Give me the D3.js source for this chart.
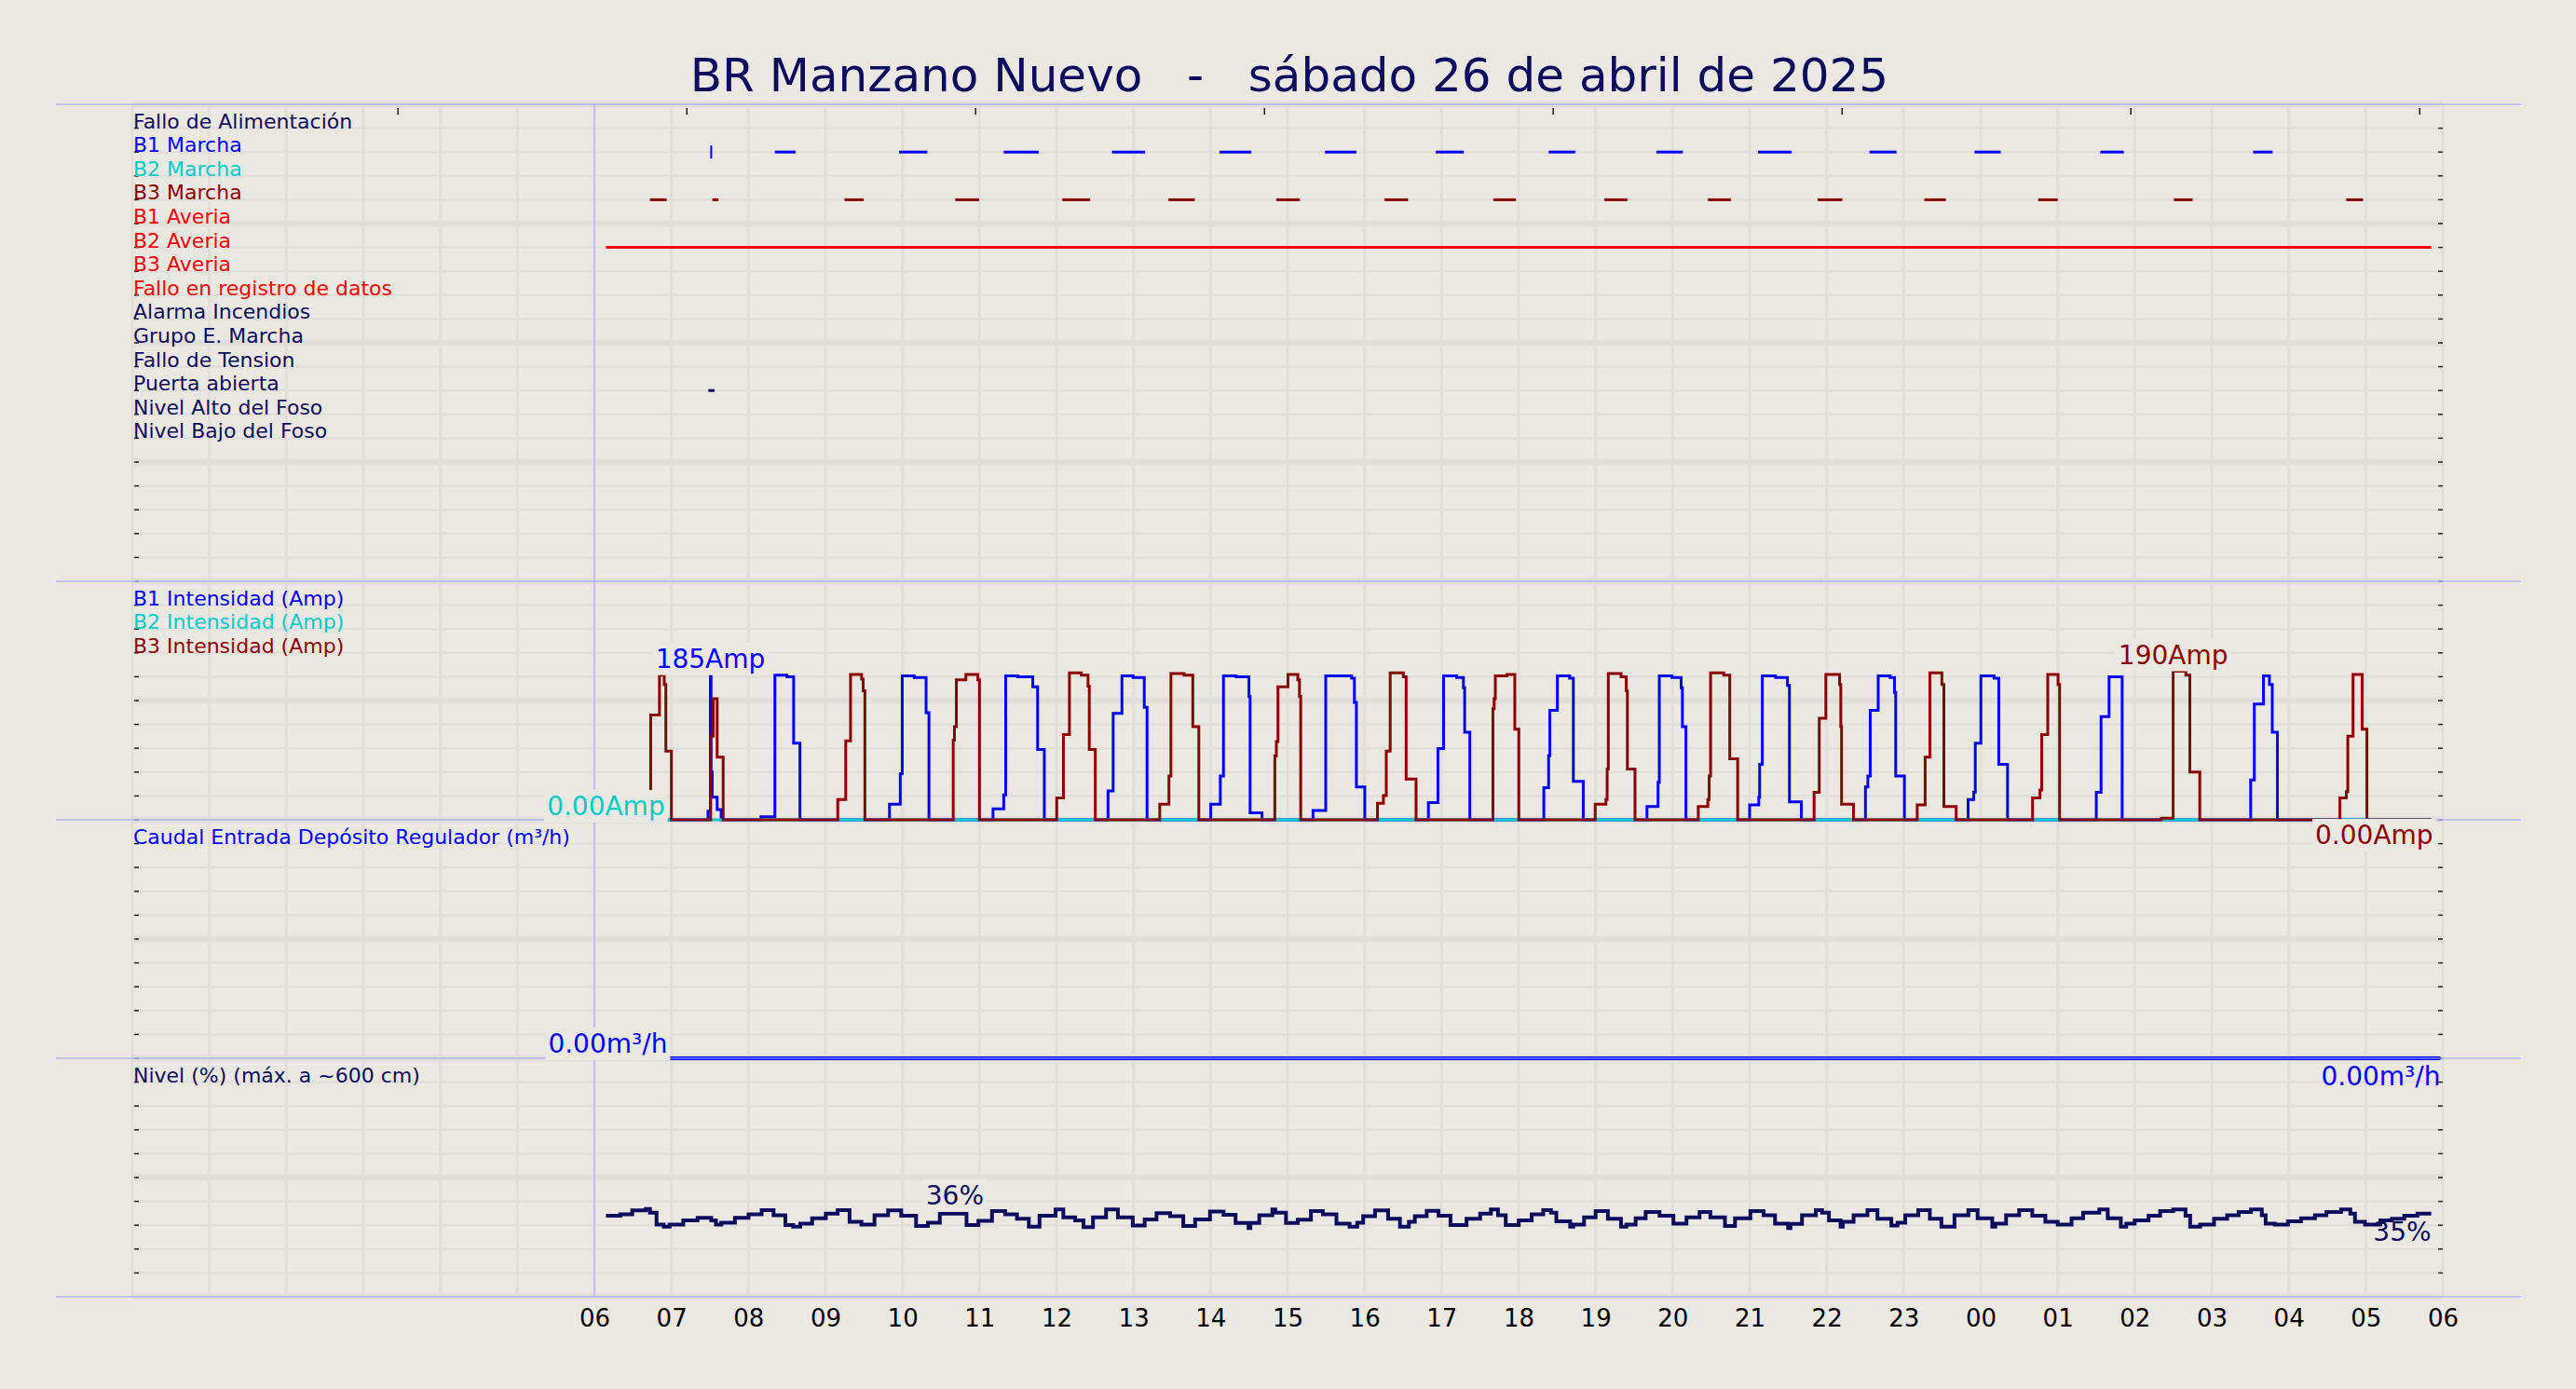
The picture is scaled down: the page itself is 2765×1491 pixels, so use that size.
<!DOCTYPE html>
<html>
<head>
<meta charset="utf-8">
<script src="https://cdn.jsdelivr.net/npm/d3@7"></script>
<style>
  html, body { margin: 0; padding: 0; background: #ebe7e1; }
  svg { display: block; font-family: "DejaVu Sans", sans-serif; }
  text { white-space: pre; }
</style>
</head>
<body>
<svg id="chart" width="2765" height="1491"></svg>
<script>
// ---- data (time in hours from 00:00 of the day; 6 = 06:00, 30 = 06:00 next day) ----
const title = "BR Manzano Nuevo   -   sábado 26 de abril de 2025";

const hourTicks = d3.range(6, 31);
const topTicks = [3.45, 7.2, 10.95, 14.7, 18.45, 22.2, 25.95, 29.7];

const signalNames = [
  "Fallo de Alimentación", "B1 Marcha", "B2 Marcha", "B3 Marcha", "B1 Averia",
  "B2 Averia", "B3 Averia", "Fallo en registro de datos", "Alarma Incendios",
  "Grupo E. Marcha", "Fallo de Tension", "Puerta abierta", "Nivel Alto del Foso",
  "Nivel Bajo del Foso"
];
const signalColors = [
  "navy", "blue", "cyan", "darkred", "red", "red", "red", "red",
  "navy", "navy", "navy", "navy", "navy", "navy"
];

// on/off periods [start, end]
const b1Marcha = [
  [8.344, 8.612], [9.956, 10.323], [11.315, 11.770], [12.721, 13.150],
  [14.116, 14.530], [15.486, 15.894], [16.922, 17.289], [18.390, 18.736],
  [19.791, 20.132], [21.109, 21.543], [22.556, 22.907], [23.920, 24.261],
  [25.553, 25.858], [27.537, 27.791]
];
const b1MarchaPoints = [7.517];
const b3Marcha = [
  [6.721, 6.938], [7.532, 7.610], [9.248, 9.496], [10.685, 10.995],
  [12.075, 12.437], [13.455, 13.796], [14.855, 15.160], [16.261, 16.566],
  [17.672, 17.966], [19.114, 19.413], [20.457, 20.757], [21.884, 22.204],
  [23.269, 23.548], [24.747, 25.0], [26.509, 26.752], [28.747, 28.964]
];
const b2Averia = [[6.15, 29.85]];
const puertaAbierta = [[7.48, 7.56]];

// intensities, Amp [time, value]
const b1Amp = [
  [6.15, 0],
  [7.475, 11], [7.506, 185], [7.515, 61], [7.53, 29], [7.594, 13], [7.646, 0],
  [8.163, 4], [8.344, 185], [8.499, 183], [8.587, 98], [8.669, 0],
  [9.832, 20], [9.972, 59], [9.997, 184], [10.152, 182], [10.307, 137], [10.344, 0],
  [11.176, 14], [11.315, 32], [11.341, 184], [11.496, 183], [11.692, 170], [11.755, 90], [11.842, 0],
  [12.669, 37], [12.736, 136], [12.850, 184], [12.995, 182], [13.140, 144], [13.176, 0],
  [14.003, 20], [14.127, 56], [14.168, 184], [14.333, 183], [14.499, 158], [14.514, 9], [14.669, 0],
  [15.331, 12], [15.496, 184], [15.832, 181], [15.868, 150], [15.894, 42], [16.003, 0],
  [16.829, 22], [16.953, 91], [17.026, 184], [17.196, 182], [17.284, 169], [17.300, 112], [17.367, 0],
  [18.328, 41], [18.390, 82], [18.406, 140], [18.504, 184], [18.664, 181], [18.711, 49], [18.840, 0],
  [19.667, 17], [19.811, 48], [19.827, 184], [19.992, 182], [20.111, 169], [20.127, 119], [20.173, 0],
  [21.0, 19], [21.119, 29], [21.13, 71], [21.165, 184], [21.336, 182], [21.491, 172], [21.517, 23], [21.672, 0],
  [22.504, 42], [22.535, 56], [22.566, 140], [22.669, 184], [22.824, 182], [22.881, 163], [22.897, 56], [23.010, 0],
  [23.837, 26], [23.910, 35], [23.930, 98], [24.003, 184], [24.173, 181], [24.235, 71], [24.349, 0],
  [25.501, 35], [25.563, 132], [25.667, 183], [25.837, 0],
  [27.506, 51], [27.553, 148], [27.672, 184], [27.749, 173], [27.786, 112], [27.853, 0],
  [29.85, 0]
];
const b2Amp = [[6.15, 0], [29.85, 0]];
const b3Amp = [
  [6.15, 0], [6.62, 36], [6.731, 134], [6.845, 185], [6.907, 173], [6.928, 88], [7.0, 0],
  [7.51, 107], [7.543, 155], [7.594, 80], [7.672, 0],
  [9.160, 26], [9.264, 101], [9.326, 186], [9.470, 180], [9.49, 165], [9.512, 0],
  [10.659, 102], [10.675, 119], [10.700, 179], [10.824, 186], [10.979, 179], [11.0, 0],
  [12.003, 28], [12.090, 109], [12.168, 188], [12.323, 185], [12.41, 171], [12.426, 90], [12.504, 0],
  [13.341, 20], [13.460, 56], [13.486, 187], [13.656, 185], [13.77, 119], [13.848, 0],
  [14.835, 82], [14.855, 100], [14.876, 170], [15.005, 186], [15.134, 179], [15.155, 158], [15.171, 0],
  [16.168, 21], [16.245, 31], [16.282, 88], [16.333, 188], [16.504, 183], [16.540, 52], [16.669, 0],
  [17.667, 142], [17.683, 155], [17.698, 184], [17.848, 186], [17.951, 116], [18.003, 0],
  [18.995, 20], [19.134, 26], [19.150, 65], [19.165, 187], [19.331, 183], [19.398, 165], [19.413, 65], [19.512, 0],
  [20.333, 17], [20.457, 26], [20.475, 56], [20.493, 188], [20.664, 185], [20.742, 78], [20.845, 0],
  [21.837, 35], [21.904, 130], [21.99, 186], [22.168, 173], [22.184, 119], [22.194, 20], [22.349, 0],
  [23.176, 19], [23.279, 80], [23.341, 188], [23.496, 173], [23.522, 17], [23.682, 0],
  [24.674, 28], [24.77, 38], [24.793, 109], [24.871, 186], [25.005, 173], [25.025, 0],
  [26.344, 2], [26.499, 190], [26.664, 185], [26.716, 61], [26.845, 0],
  [28.664, 28], [28.747, 36], [28.767, 107], [28.835, 186], [28.953, 116], [29.015, 0],
  [29.85, 0]
];

// caudal, m3/h
const caudal = [[6.15, 0], [29.97, 0]];

// nivel, %
const nivel = [
  [6.15, 34.0], [6.337, 34.6], [6.491, 36.2], [6.668, 36.8], [6.722, 35.3], [6.807, 30.3], [6.900, 29.4],
  [6.977, 30.3], [7.154, 32.0], [7.339, 33.1], [7.517, 32.0], [7.578, 30.3], [7.648, 31.1], [7.825, 33.1],
  [8.002, 34.6], [8.172, 36.3], [8.326, 34.2], [8.480, 30.1], [8.581, 29.4], [8.673, 30.7], [8.827, 32.9],
  [9.005, 34.9], [9.159, 36.3], [9.313, 31.4], [9.467, 30.3], [9.637, 34.2], [9.814, 36.2], [9.984, 34.0],
  [10.177, 29.7], [10.331, 31.1], [10.485, 34.9], [10.832, 30.1], [10.986, 31.8], [11.163, 35.9],
  [11.333, 34.6], [11.487, 32.7], [11.641, 29.4], [11.780, 34.0], [11.988, 36.6], [12.089, 33.3],
  [12.243, 32.0], [12.351, 29.2], [12.474, 33.3], [12.644, 36.6], [12.798, 33.3], [12.991, 29.9],
  [13.145, 32.4], [13.299, 35.1], [13.476, 33.8], [13.646, 29.7], [13.800, 32.4], [13.993, 35.7],
  [14.170, 34.4], [14.325, 31.0], [14.494, 28.8], [14.517, 31.0], [14.633, 34.2], [14.803, 36.6],
  [14.841, 35.3], [14.980, 31.0], [15.134, 32.3], [15.304, 35.9], [15.458, 34.6], [15.635, 30.7],
  [15.805, 29.4], [15.905, 31.1], [15.982, 33.8], [16.136, 36.2], [16.306, 32.7], [16.460, 29.4],
  [16.576, 31.4], [16.653, 33.8], [16.807, 36.0], [16.961, 34.0], [17.116, 30.1], [17.324, 32.7],
  [17.501, 34.9], [17.640, 36.6], [17.733, 34.2], [17.833, 30.1], [18.002, 32.0], [18.17, 34.6],
  [18.32, 36.3], [18.42, 35.3], [18.49, 31.6], [18.67, 29.4], [18.71, 30.3], [18.85, 33.3], [19.00, 35.9],
  [19.16, 32.7], [19.33, 29.4], [19.40, 30.3], [19.52, 32.9], [19.65, 35.5], [19.83, 34.0], [20.01, 30.7],
  [20.18, 33.3], [20.35, 35.5], [20.49, 33.3], [20.68, 29.7], [20.81, 32.9], [21.01, 35.9], [21.18, 34.2],
  [21.33, 30.7], [21.50, 28.8], [21.53, 30.6], [21.68, 34.2], [21.86, 36.3], [21.94, 35.3], [22.03, 32.0],
  [22.18, 29.4], [22.21, 31.4], [22.35, 34.2], [22.53, 36.3], [22.66, 32.7], [22.84, 29.9], [22.92, 31.1],
  [23.02, 34.2], [23.19, 36.3], [23.34, 32.7], [23.49, 29.4], [23.66, 34.2], [23.84, 36.3], [23.96, 32.9],
  [24.15, 29.4], [24.19, 30.7], [24.33, 34.2], [24.50, 36.3], [24.67, 34.0], [24.84, 31.4], [25.00, 30.3],
  [25.18, 32.9], [25.33, 35.3], [25.54, 36.6], [25.65, 32.9], [25.82, 29.4], [25.89, 30.7], [26.00, 32.0],
  [26.18, 34.0], [26.33, 35.9], [26.50, 36.6], [26.66, 34.0], [26.72, 29.4], [26.85, 30.3], [27.03, 32.7],
  [27.20, 34.2], [27.35, 35.5], [27.51, 36.6], [27.65, 34.2], [27.70, 30.7], [27.82, 30.3], [27.99, 31.6],
  [28.16, 32.9], [28.34, 34.2], [28.49, 35.5], [28.68, 36.6], [28.80, 34.9], [28.86, 31.4], [28.99, 30.3],
  [29.19, 32.0], [29.34, 32.7], [29.50, 34.0], [29.67, 34.9], [29.85, 34.9]
];

// ---- drawing ----
const C = {
  bg: "#ebe7e1", grid: "#e2dedb", frame: "#b4b4ff",
  navy: "#0c0c5e", blue: "#0000ff", cyan: "#00cccc", darkred: "#8b0000", red: "#ff0000"
};
const colorOf = (n) => C[n];

const svg = d3.select("#chart");
svg.append("rect").attr("width", 2765).attr("height", 1491).attr("fill", C.bg);

const x = d3.scaleLinear().domain([0, 30]).range([142, 2622]);
const row = d3.scaleLinear().domain([0, 50]).range([112, 1392]);   // 50 grid rows, 4 panels
const ampY = d3.scaleLinear().domain([0, 305]).range([row(30), row(20)]);
const caudalY = d3.scaleLinear().domain([0, 10]).range([row(40), row(30)]);
const nivelY = d3.scaleLinear().domain([0, 100]).range([row(50), row(40)]);

// grid
const grid = svg.append("g");
grid.selectAll("line.v").data(d3.range(0, 31)).join("line").attr("class", "v")
  .attr("x1", x).attr("x2", x).attr("y1", row(0)).attr("y2", row(50))
  .attr("stroke", C.grid).attr("stroke-width", 3);
grid.selectAll("line.h").data(d3.range(0, 51)).join("line").attr("class", "h")
  .attr("x1", x(0)).attr("x2", x(30)).attr("y1", row).attr("y2", row)
  .attr("stroke", C.grid).attr("stroke-width", (k) => (k % 5 === 0 ? 7 : 2.5));

// small ticks, left and right
const ticks = svg.append("g").attr("stroke", "#111").attr("stroke-width", 1.4);
ticks.selectAll("line.l").data(d3.range(1, 50)).join("line").attr("class", "l")
  .attr("x1", x(0) + 2).attr("x2", x(0) + 7).attr("y1", row).attr("y2", row);
ticks.selectAll("line.r").data(d3.range(1, 50)).join("line").attr("class", "r")
  .attr("x1", x(30) - 5).attr("x2", x(30)).attr("y1", row).attr("y2", row);
ticks.selectAll("line.t").data(topTicks).join("line").attr("class", "t")
  .attr("x1", x).attr("x2", x).attr("y1", row(0) + 4).attr("y2", row(0) + 11);

// panel frame lines
const frame = svg.append("g").attr("stroke", C.frame).attr("stroke-width", 1.5);
frame.selectAll("line.p").data([0, 20, 30, 40, 50]).join("line").attr("class", "p")
  .attr("x1", 60).attr("x2", 2706).attr("y1", row).attr("y2", row);
frame.append("line").attr("x1", x(6)).attr("x2", x(6)).attr("y1", row(0)).attr("y2", row(50));

// panel 1: digital signals
const sig = svg.append("g");
sig.selectAll("text").data(signalNames).join("text")
  .attr("x", 143).attr("y", (d, i) => row(i + 1))
  .attr("font-size", 22).attr("fill", (d, i) => colorOf(signalColors[i]))
  .text((d) => d);

function segments(data, rowIndex, color) {
  sig.append("g").selectAll("line").data(data).join("line")
    .attr("x1", (d) => x(d[0])).attr("x2", (d) => x(d[1]))
    .attr("y1", row(rowIndex)).attr("y2", row(rowIndex))
    .attr("stroke", color).attr("stroke-width", 3);
}
segments(b1Marcha, 2, C.blue);
segments(b3Marcha, 4, C.darkred);
segments(b2Averia, 6, C.red);
segments(puertaAbierta, 12, C.navy);
sig.append("g").selectAll("line").data(b1MarchaPoints).join("line")
  .attr("x1", x).attr("x2", x).attr("y1", row(2) - 7).attr("y2", row(2) + 7)
  .attr("stroke", C.blue).attr("stroke-width", 2);

// panel labels 2-4
const plabels = [
  ["B1 Intensidad (Amp)", 21, C.blue], ["B2 Intensidad (Amp)", 22, C.cyan],
  ["B3 Intensidad (Amp)", 23, C.darkred],
  ["Caudal Entrada Depósito Regulador (m³/h)", 31, C.blue],
  ["Nivel (%) (máx. a ~600 cm)", 41, C.navy]
];
svg.append("g").selectAll("text").data(plabels).join("text")
  .attr("x", 143).attr("y", (d) => row(d[1])).attr("font-size", 22)
  .attr("fill", (d) => d[2]).text((d) => d[0]);

// series
const series = svg.append("g").attr("fill", "none");
const stepLine = (yScale) => d3.line().x((d) => x(d[0])).y((d) => yScale(d[1])).curve(d3.curveStepAfter);
series.append("path").datum(b1Amp).attr("d", stepLine(ampY)).attr("stroke", C.blue).attr("stroke-width", 3);
series.append("path").datum(b2Amp).attr("d", stepLine(ampY)).attr("stroke", C.cyan).attr("stroke-width", 3);
series.append("path").datum(b3Amp).attr("d", stepLine(ampY)).attr("stroke", C.darkred).attr("stroke-width", 3);
series.append("path").datum(caudal).attr("d", stepLine(caudalY)).attr("stroke", C.blue).attr("stroke-width", 4);
series.append("path").datum(nivel).attr("d", stepLine(nivelY)).attr("stroke", C.navy).attr("stroke-width", 4);
frame.raise();
series.raise();
svg.append("line").attr("x1", x(6.15)).attr("x2", x(29.97)).attr("y1", caudalY(0)).attr("y2", caudalY(0))
  .attr("stroke", C.frame).attr("stroke-width", 1.2);

// value labels with background boxes
const valueLabels = [
  { t: "185Amp", x: x(7.506), y: ampY(185) - 8, a: "middle", c: C.blue, box: true },
  { t: "190Amp", x: x(26.5), y: ampY(190) - 8, a: "middle", c: C.darkred, box: true },
  { t: "0.00Amp", x: x(6.15), y: ampY(0) - 5, a: "middle", c: C.cyan, box: true },
  { t: "0.00Amp", x: x(29.85) + 2, y: ampY(0) + 26, a: "end", c: C.darkred, box: true },
  { t: "0.00m³/h", x: x(6.15) + 2, y: caudalY(0) - 6, a: "middle", c: C.blue, box: true },
  { t: "0.00m³/h", x: x(29.97), y: caudalY(0) + 29, a: "end", c: C.blue, box: false },
  { t: "36%", x: x(10.68), y: nivelY(36) - 7, a: "middle", c: C.navy, box: true },
  { t: "35%", x: x(29.85), y: nivelY(35) + 30, a: "end", c: C.navy, box: false }
];
const vl = svg.append("g");
valueLabels.forEach((d) => {
  const g = vl.append("g");
  const txt = g.append("text").attr("x", d.x).attr("y", d.y).attr("text-anchor", d.a)
    .attr("font-size", 28).attr("fill", d.c).text(d.t);
  if (d.box) {
    const b = txt.node().getBBox();
    g.insert("rect", "text").attr("x", b.x - 3).attr("y", b.y - 1)
      .attr("width", b.width + 6).attr("height", b.height + 2).attr("fill", C.bg);
  }
});

// x axis
const xAxis = d3.axisBottom(x).tickValues(hourTicks).tickSize(0).tickPadding(14)
  .tickFormat((h) => String(h % 24).padStart(2, "0"));
const ax = svg.append("g").attr("transform", `translate(0,${row(50)})`).call(xAxis);
ax.select(".domain").remove();
ax.selectAll("text").attr("font-size", 26).attr("fill", "#000").attr("font-family", "DejaVu Sans");

// title
svg.append("text").attr("x", 1384).attr("y", 98).attr("text-anchor", "middle")
  .attr("font-size", 50).attr("fill", C.navy).text(title);
</script>
</body>
</html>
